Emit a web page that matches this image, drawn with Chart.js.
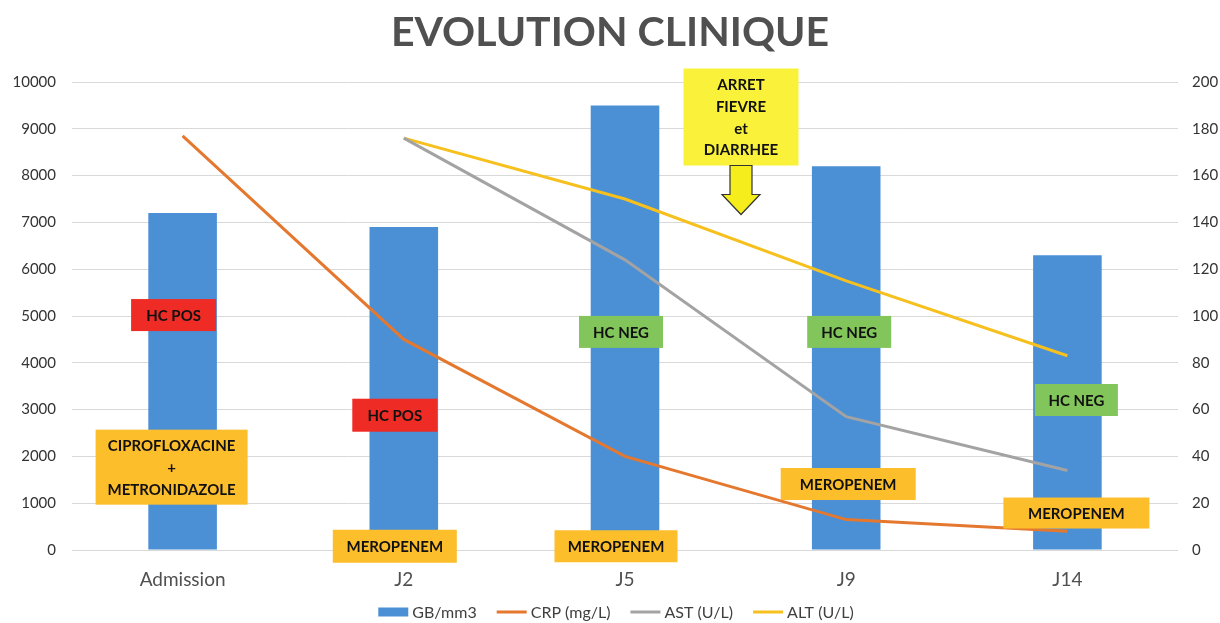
<!DOCTYPE html>
<html>
<head>
<meta charset="utf-8">
<script src="https://cdn.jsdelivr.net/npm/chart.js@4/dist/chart.umd.min.js"></script>
<style>
  html, body { margin: 0; padding: 0; background: #fff; }
  #wrap { width: 1220px; height: 623px; }
</style>
</head>
<body>
<div id="wrap"><canvas id="chart"></canvas></div>
<script>
// Data
const categories = ['Admission', 'J2', 'J5', 'J9', 'J14'];
const gbValues = [7200, 6900, 9500, 8200, 6300];
const crpValues = [177, 90, 40, 13, 8];
const astValues = [null, 176, 124, 57, 34];
const altValues = [null, 176, 150, 115, 83];
const leftTicks = [0, 10000, 1000];
const rightTicks = [0, 200, 20];

// Annotation boxes (category index, offset, value on left axis)
const notes = [
    { lines: ['HC POS'], i: 0, dx: -9, y: 5020, w: 85, h: 32, bg: '#ee2b24' },
    { lines: ['CIPROFLOXACINE', '+', 'METRONIDAZOLE'], i: 0, dx: -11, y: 1770, w: 152, h: 75, bg: '#fdbe2c' },
    { lines: ['HC POS'], i: 1, dx: -9, y: 2880, w: 85, h: 33, bg: '#ee2b24' },
    { lines: ['MEROPENEM'], i: 1, dx: -9, y: 80, w: 124, h: 33, bg: '#fdbe2c' },
    { lines: ['HC NEG'], i: 2, dx: -4, y: 4660, w: 84, h: 32, bg: '#82c55b' },
    { lines: ['MEROPENEM'], i: 2, dx: -9, y: 80, w: 123, h: 32, bg: '#fdbe2c' },
    { lines: ['ARRET', 'FIEVRE', 'et', 'DIARRHEE'], i: 2, dx: 116, y: 9252, w: 115, h: 97, bg: '#faf23a', arrow: true },
    { lines: ['HC NEG'], i: 3, dx: 3, y: 4660, w: 84, h: 32, bg: '#82c55b' },
    { lines: ['MEROPENEM'], i: 3, dx: 2, y: 1410, w: 135, h: 32, bg: '#fdbe2c' },
    { lines: ['HC NEG'], i: 4, dx: 9, y: 3205, w: 83, h: 32, bg: '#82c55b' },
    { lines: ['MEROPENEM'], i: 4, dx: 9, y: 790, w: 146, h: 31, bg: '#fdbe2c' }
];

const FONT = 'Lato, "Open Sans", sans-serif';

const notesPlugin = {
    id: 'notes',
    afterDatasetsDraw(chart) {
        const ctx = chart.ctx;
        const xs = chart.scales.x, ys = chart.scales.y;
        ctx.save();
        notes.forEach(n => {
            const cx = xs.getPixelForValue(n.i) + n.dx;
            const cy = ys.getPixelForValue(n.y);
            const x0 = cx - n.w / 2, y0 = cy - n.h / 2;
            ctx.fillStyle = n.bg;
            ctx.fillRect(x0, y0, n.w, n.h);
            ctx.fillStyle = '#111';
            ctx.font = 'bold 15px ' + FONT;
            ctx.textAlign = 'center';
            ctx.textBaseline = 'middle';
            const lh = n.lines.length > 1 ? (n.h - 10) / n.lines.length : 0;
            n.lines.forEach((t, k) => {
                const ty = cy + (k - (n.lines.length - 1) / 2) * lh;
                ctx.fillText(t, cx, ty + 1);
            });
            if (n.arrow) {
                const top = y0 + n.h, tip = top + 49;
                ctx.beginPath();
                ctx.moveTo(cx - 11, top);
                ctx.lineTo(cx + 11, top);
                ctx.lineTo(cx + 11, top + 29);
                ctx.lineTo(cx + 19, top + 29);
                ctx.lineTo(cx, tip);
                ctx.lineTo(cx - 19, top + 29);
                ctx.lineTo(cx - 11, top + 29);
                ctx.closePath();
                ctx.fillStyle = '#f6ee1c';
                ctx.fill();
                ctx.strokeStyle = '#333';
                ctx.lineWidth = 1.2;
                ctx.stroke();
            }
        });
        ctx.restore();
    }
};

// legend drawn at the bottom, bar swatch then line swatches
const legendPlugin = {
    id: 'bottomLegend',
    afterDraw(chart) {
        const ctx = chart.ctx;
        ctx.save();
        ctx.font = '16px ' + FONT;
        ctx.textBaseline = 'middle';
        ctx.textAlign = 'left';
        const items = chart.data.datasets.map(ds => ({
            text: ds.label, color: ds.type === 'bar' ? ds.backgroundColor : ds.borderColor,
            h: ds.type === 'bar' ? 9 : 3, w: ctx.measureText(ds.label).width
        }));
        const sw = 30, gap = 4, space = 20;
        const total = items.reduce((a, it) => a + sw + gap + it.w, 0) + space * (items.length - 1);
        let x = chart.width / 2 + 6 - total / 2;
        const y = 612;
        items.forEach(it => {
            ctx.fillStyle = it.color;
            ctx.fillRect(x, y - it.h / 2, sw, it.h);
            ctx.fillStyle = '#404040';
            ctx.fillText(it.text, x + sw + gap, y + 1);
            x += sw + gap + it.w + space;
        });
        ctx.restore();
    }
};

const ctx = document.getElementById('chart').getContext('2d');
const chart = new Chart(ctx, {
    type: 'bar',
    data: {
        labels: categories,
        datasets: [
            { type: 'bar', label: 'GB/mm3', data: gbValues, backgroundColor: '#4b8fd5', yAxisID: 'y', order: 2,
              barPercentage: 0.62, categoryPercentage: 0.5 },
            { type: 'line', label: 'CRP (mg/L)', data: crpValues, borderColor: '#e5782f', borderWidth: 3,
              pointRadius: 0, tension: 0, yAxisID: 'y1', order: 1 },
            { type: 'line', label: 'AST (U/L)', data: astValues, borderColor: '#a3a3a3', borderWidth: 3,
              pointRadius: 0, tension: 0, yAxisID: 'y1', order: 1 },
            { type: 'line', label: 'ALT (U/L)', data: altValues, borderColor: '#f6c01e', borderWidth: 3,
              pointRadius: 0, tension: 0, yAxisID: 'y1', order: 1 }
        ]
    },
    options: {
        responsive: true,
        maintainAspectRatio: false,
        animation: false,
        layout: { padding: { top: 0, bottom: 28, left: 0, right: 0 } },
        plugins: {
            title: {
                display: true,
                text: 'EVOLUTION CLINIQUE',
                color: '#505050',
                font: { family: FONT, size: 41, weight: 'bold' },
                padding: { top: 8.6, bottom: 24.2 }
            },
            legend: { display: false },
            tooltip: { enabled: false }
        },
        scales: {
            x: {
                grid: { display: false },
                border: { display: false },
                ticks: { color: '#505050', font: { family: FONT, size: 19 }, padding: 10 },
                afterFit: s => { s.height = 45; }
            },
            y: {
                position: 'left',
                min: leftTicks[0], max: leftTicks[1],
                ticks: { stepSize: leftTicks[2], color: '#333', font: { family: FONT, size: 15 }, padding: 16,
                         callback: v => String(v) },
                grid: { color: '#d9d9d9', drawTicks: false },
                border: { display: false },
                afterFit: s => { s.width = 72; }
            },
            y1: {
                position: 'right',
                min: rightTicks[0], max: rightTicks[1],
                ticks: { stepSize: rightTicks[2], color: '#333', font: { family: FONT, size: 15 }, padding: 14,
                         callback: v => String(v) },
                grid: { display: false, drawTicks: false },
                border: { display: false },
                afterFit: s => { s.width = 42; }
            }
        }
    },
    plugins: [notesPlugin, legendPlugin]
});
</script>
</body>
</html>
